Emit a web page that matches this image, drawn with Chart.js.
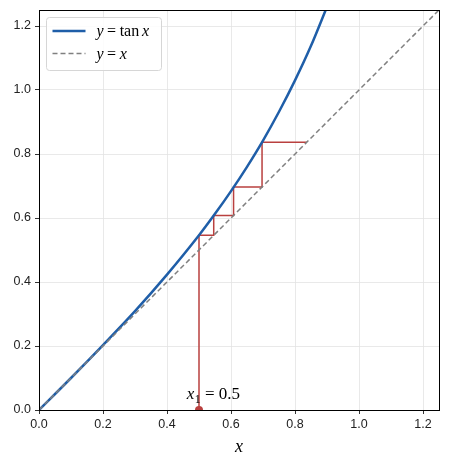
<!DOCTYPE html>
<html>
<head>
<meta charset="utf-8">
<script src="https://cdn.jsdelivr.net/npm/chart.js@4.4.1/dist/chart.umd.min.js"></script>
<style>
  html, body { margin: 0; padding: 0; background: #fff; }
</style>
</head>
<body>
<canvas id="chart" width="449" height="465"></canvas>
<script>
// y = tan x
const tanX = [0, 0.1, 0.2, 0.3, 0.4, 0.5, 0.55, 0.6, 0.65, 0.7, 0.75, 0.8, 0.85, 0.9];
const tanY = [0, 0.100, 0.203, 0.309, 0.423, 0.546, 0.613, 0.684, 0.760, 0.842, 0.932, 1.030, 1.138, 1.260];

// y = x reference line
const diagX = [0, 1.25];
const diagY = [0, 1.25];

// cobweb staircase starting at x1 = 0.5
const cobX = [0.5, 0.5, 0.546, 0.546, 0.608, 0.608, 0.697, 0.697, 0.837];
const cobY = [0, 0.546, 0.546, 0.608, 0.608, 0.697, 0.697, 0.837, 0.837];

// start marker and its label
const startX = [0.5];
const startY = [0];
const startLabel = { x: 0.545, y: 0.035 };

const tickValues = [0, 0.2, 0.4, 0.6, 0.8, 1.0, 1.2];
const axisMin = 0, axisMax = 1.25;

const BLUE = '#1f5ea8';
const GRAY = '#808080';
const RED = '#b9403f';
const SERIF = '"Liberation Serif", "DejaVu Serif", serif';

const pts = (xs, ys) => xs.map((x, i) => ({ x: x, y: ys[i] }));

// draw a run of math-ish text pieces; returns total width
function drawMath(ctx, parts, x, y, size, dry) {
    let cx = x;
    for (const p of parts) {
        const s = p.sub ? size * 0.7 : size;
        ctx.font = (p.it ? 'italic ' : '') + s + 'px ' + SERIF;
        cx += (p.pre || 0) * size;
        if (!dry) ctx.fillText(p.t, cx, y + (p.sub ? size * 0.22 : 0));
        cx += ctx.measureText(p.t).width + (p.post || 0) * size;
    }
    return cx - x;
}

const legendItems = [
    { color: BLUE, width: 2.5, dash: [], parts: [
        { t: 'y', it: true }, { t: '=', pre: 0.22, post: 0.22 }, { t: 'tan', post: 0.17 }, { t: 'x', it: true }
    ] },
    { color: GRAY, width: 1.5, dash: [5, 3], parts: [
        { t: 'y', it: true }, { t: '=', pre: 0.22, post: 0.22 }, { t: 'x', it: true }
    ] }
];

const decorPlugin = {
    id: 'decor',
    afterDraw(chart) {
        const { ctx, chartArea: a, scales } = chart;
        ctx.save();
        // frame
        ctx.strokeStyle = '#000';
        ctx.lineWidth = 1;
        ctx.strokeRect(Math.round(a.left) + 0.5, Math.round(a.top) + 0.5,
            Math.round(a.right - a.left), Math.round(a.bottom - a.top));

        // x1 label
        ctx.fillStyle = '#000';
        ctx.textBaseline = 'alphabetic';
        ctx.textAlign = 'left';
        const lblParts = [
            { t: 'x', it: true }, { t: '1', sub: true, pre: 0.02 }, { t: '=', pre: 0.25, post: 0.25 }, { t: '0.5' }
        ];
        const lw = drawMath(ctx, lblParts, 0, 0, 17, true);
        drawMath(ctx, lblParts, scales.x.getPixelForValue(startLabel.x) - lw / 2,
            scales.y.getPixelForValue(startLabel.y), 17, false);

        // legend box
        const bx = a.left + 7.5, by = a.top + 7.5, bw = 115, bh = 53;
        ctx.beginPath();
        ctx.roundRect(bx, by, bw, bh, 3);
        ctx.fillStyle = 'rgba(255,255,255,0.85)';
        ctx.fill();
        ctx.strokeStyle = '#d6d6d6';
        ctx.lineWidth = 1;
        ctx.stroke();
        legendItems.forEach((it, i) => {
            const ly = by + 13.5 + i * 22.5;
            ctx.beginPath();
            ctx.setLineDash(it.dash);
            ctx.strokeStyle = it.color;
            ctx.lineWidth = it.width;
            ctx.moveTo(bx + 6, ly);
            ctx.lineTo(bx + 39, ly);
            ctx.stroke();
            ctx.setLineDash([]);
            ctx.fillStyle = '#000';
            drawMath(ctx, it.parts, bx + 50, ly + 5, 16, false);
        });
        ctx.restore();
    }
};

const axisCommon = {
    type: 'linear',
    min: axisMin,
    max: axisMax,
    afterBuildTicks: s => { s.ticks = tickValues.map(v => ({ value: v })); },
    grid: { color: '#e3e3e3', lineWidth: 0.8, tickColor: '#000', tickLength: 4, drawTicks: true },
    border: { display: true, color: '#000', width: 1 }
};

new Chart(document.getElementById('chart'), {
    type: 'scatter',
    data: {
        datasets: [
            {
                label: 'y = tan x',
                data: pts(tanX, tanY),
                showLine: true,
                borderColor: BLUE,
                borderWidth: 2.5,
                pointRadius: 0,
                cubicInterpolationMode: 'monotone',
                clip: 0,
                order: 2
            },
            {
                label: 'y = x',
                data: pts(diagX, diagY),
                showLine: true,
                borderColor: GRAY,
                borderWidth: 1.5,
                borderDash: [5, 3],
                pointRadius: 0,
                clip: 0,
                order: 1
            },
            {
                label: 'cobweb',
                data: pts(cobX, cobY),
                showLine: true,
                borderColor: RED,
                borderWidth: 1.5,
                pointRadius: 0,
                clip: 0,
                order: 3
            },
            {
                label: 'x1',
                data: pts(startX, startY),
                showLine: false,
                pointRadius: 4,
                pointBackgroundColor: RED,
                pointBorderColor: RED,
                pointBorderWidth: 0,
                clip: 0,
                order: 0
            }
        ]
    },
    options: {
        responsive: false,
        animation: false,
        layout: { padding: { left: 0, right: 10, top: 10, bottom: 0 } },
        plugins: { legend: { display: false }, tooltip: { enabled: false } },
        scales: {
            x: {
                ...axisCommon,
                afterFit: s => { s.height = 55; s.paddingLeft = 0; s.paddingRight = 0; },
                ticks: { color: '#222', padding: 3, font: { family: '"Liberation Sans", sans-serif', size: 12.5 },
                    callback: v => v.toFixed(1), maxRotation: 0 },
                title: { display: true, text: 'x', color: '#000', padding: { top: 2, bottom: 7 },
                    font: { family: SERIF, style: 'italic', size: 18 } }
            },
            y: {
                ...axisCommon,
                afterFit: s => { s.width = 39; s.paddingTop = 0; s.paddingBottom = 0; },
                ticks: { color: '#222', padding: 4, font: { family: '"Liberation Sans", sans-serif', size: 12.5 },
                    callback: v => v.toFixed(1) }
            }
        }
    },
    plugins: [decorPlugin]
});
</script>
</body>
</html>
